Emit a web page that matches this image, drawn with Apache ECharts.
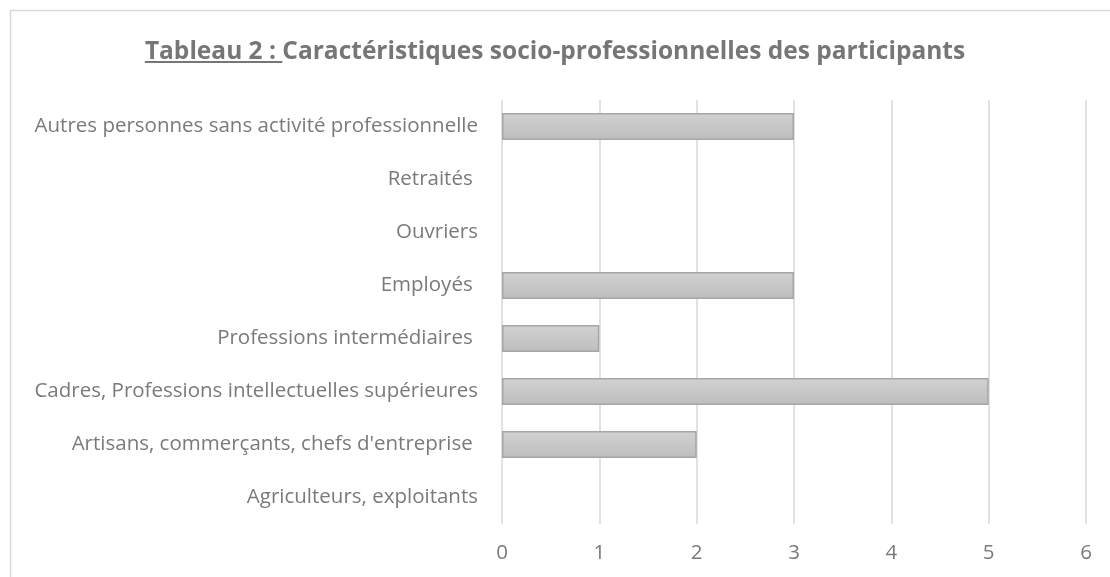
<!DOCTYPE html>
<html>
<head>
<meta charset="utf-8">
<script src="https://cdn.jsdelivr.net/npm/echarts@6/dist/echarts.min.js"></script>
<style>
  html, body { margin: 0; padding: 0; background: #fff; }
  #chart { width: 1110px; height: 577px; }
</style>
</head>
<body>
<div id="chart"></div>
<script>
// categories bottom -> top, as the axis draws them
const categories = [
  "Agriculteurs, exploitants",
  "Artisans, commerçants, chefs d'entreprise ",
  "Cadres, Professions intellectuelles supérieures",
  "Professions intermédiaires ",
  "Employés ",
  "Ouvriers",
  "Retraités ",
  "Autres personnes sans activité professionnelle"
];
const participants = [0, 2, 5, 1, 3, 0, 0, 3];
const xTicks = [0, 1, 2, 3, 4, 5, 6];

const titleFirst = "Tableau 2 :";
const titleRest = " Caractéristiques socio-professionnelles des participants";

const chart = echarts.init(document.getElementById("chart"), null, { renderer: "canvas" });

// zero bars are not drawn in the original, so drop their outline
const barData = participants.map(v =>
  v === 0 ? { value: v, itemStyle: { borderWidth: 0 } } : v
);

const titleFont = { fontFamily: "Open Sans", fontSize: 24.5, fontWeight: "bold", color: "#767676" };

const border = {
  type: "rect",
  shape: { x: 10.5, y: 10.5, width: 1300, height: 800 },
  style: { fill: null, stroke: "#d9d9d9", lineWidth: 1.5 },
  silent: true
};

const option = {
  backgroundColor: "#fff",
  animation: false,
  title: {
    text: "{u|" + titleFirst + "}{n|" + titleRest + "}",
    left: "center",
    top: 35,
    textStyle: { rich: { u: titleFont, n: titleFont } }
  },
  grid: { left: 502, right: 24, top: 100, bottom: 53, containLabel: false },
  xAxis: {
    type: "value",
    min: xTicks[0],
    max: xTicks[xTicks.length - 1],
    interval: 1,
    axisLine: { show: false },
    axisTick: { show: false },
    splitLine: { lineStyle: { color: "#d9d9d9", width: 1.5 } },
    axisLabel: { fontFamily: "Open Sans", fontSize: 20.5, color: "#7a7a7a", margin: 19 }
  },
  yAxis: {
    type: "category",
    data: categories,
    axisLine: { show: false },
    axisTick: { show: false },
    axisLabel: { fontFamily: "Open Sans", fontSize: 20.5, color: "#7a7a7a", margin: 24 }
  },
  series: [{
    type: "bar",
    data: barData,
    barWidth: "51%",
    itemStyle: {
      color: new echarts.graphic.LinearGradient(0, 0, 0, 1, [
        { offset: 0, color: "#d2d2d2" },
        { offset: 1, color: "#bdbdbd" }
      ]),
      borderColor: "#a6a6a6",
      borderWidth: 1.5
    }
  }],
  graphic: [border]
};

chart.setOption(option);

// underline under "Tableau 2 :" (rich text has no underline)
const ctx = document.createElement("canvas").getContext("2d");
ctx.font = "bold 24.5px 'Open Sans'";
const wFirst = ctx.measureText(titleFirst + " ").width;
const wAll = ctx.measureText(titleFirst + titleRest).width;
const x0 = 555 - wAll / 2;
chart.setOption({
  graphic: [
    border,
    {
      type: "line",
      shape: { x1: x0, y1: 62, x2: x0 + wFirst, y2: 62 },
      style: { stroke: "#767676", lineWidth: 2 },
      silent: true
    }
  ]
});
</script>
</body>
</html>
